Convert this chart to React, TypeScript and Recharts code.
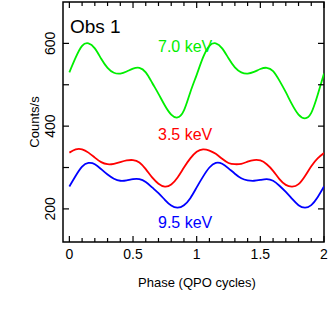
import { LineChart, Line, XAxis, YAxis, ReferenceArea } from 'recharts';

const PHASE = [
  0, 0.05, 0.1, 0.15, 0.2, 0.25, 0.3, 0.35, 0.4, 0.45, 0.5, 0.55, 0.6, 0.65, 0.7, 0.75, 0.8, 0.85, 0.9, 0.95,
  1, 1.05, 1.1, 1.15, 1.2, 1.25, 1.3, 1.35, 1.4, 1.45, 1.5, 1.55, 1.6, 1.65, 1.7, 1.75, 1.8, 1.85, 1.9, 1.95, 2,
];

const KEV_7_0 = [
  530, 566, 594, 600, 588, 563, 541, 529, 527, 532, 539, 541, 530, 505, 478, 450, 428, 421, 438, 482,
  524, 566, 594, 600, 588, 564, 542, 530, 527, 531, 538, 541, 533, 510, 482, 452, 428, 419, 432, 475, 527,
];

const KEV_3_5 = [
  336, 344, 344, 336, 324, 313, 308, 309, 313, 317, 318, 312, 296, 276, 261, 254, 259, 276, 300, 322,
  338, 344, 341, 333, 321, 311, 308, 309, 314, 318, 317, 308, 292, 272, 258, 254, 260, 279, 303, 322, 335,
];

const KEV_9_5 = [
  254, 280, 302, 311, 308, 296, 283, 273, 268, 269, 272, 272, 265, 252, 238, 222, 208, 203, 209, 226,
  252, 278, 300, 311, 309, 298, 285, 274, 269, 268, 270, 272, 268, 256, 241, 224, 209, 203, 209, 228, 254,
];

const X_TICKS = [
  0, 0.1, 0.2, 0.3, 0.4, 0.5, 0.6, 0.7, 0.8, 0.9, 1, 1.1, 1.2, 1.3, 1.4, 1.5, 1.6, 1.7, 1.8, 1.9, 2,
];
const X_LABELED = [0, 0.5, 1, 1.5, 2];
const Y_TICKS = [200, 300, 400, 500, 600];
const Y_LABELED = [200, 400, 600];

const FONT = '"Liberation Sans", Arial, Helvetica, sans-serif';
const PLOT_TOP = 2;
const PLOT_RIGHT = 324;

const data = PHASE.map((p, i) => ({
  phase: p,
  k7: KEV_7_0[i],
  k35: KEV_3_5[i],
  k95: KEV_9_5[i],
}));

function XTick({ x, y, payload }: any) {
  const v = payload.value;
  const major = X_LABELED.some((t) => Math.abs(t - v) < 1e-6);
  const len = major ? 6 : 4;
  return (
    <g>
      <line x1={x} x2={x} y1={y} y2={y - len} stroke="#000" strokeWidth={1.2} />
      <line x1={x} x2={x} y1={PLOT_TOP} y2={PLOT_TOP + len} stroke="#000" strokeWidth={1.2} />
      {major && (
        <text x={x} y={y + 17} textAnchor="middle" fontSize={14} fontFamily={FONT} fill="#000">
          {String(v)}
        </text>
      )}
    </g>
  );
}

function YTick({ x, y, payload }: any) {
  const v = payload.value;
  const labeled = Y_LABELED.includes(v);
  return (
    <g>
      <line x1={x} x2={x + 6} y1={y} y2={y} stroke="#000" strokeWidth={1.2} />
      <line x1={PLOT_RIGHT} x2={PLOT_RIGHT - 6} y1={y} y2={y} stroke="#000" strokeWidth={1.2} />
      {labeled && (
        <text
          x={x - 8}
          y={y}
          transform={`rotate(-90, ${x - 8}, ${y})`}
          textAnchor="middle"
          fontSize={14}
          fontFamily={FONT}
          fill="#000"
        >
          {v}
        </text>
      )}
    </g>
  );
}

export default function App() {
  return (
    <div style={{ position: 'absolute', left: 0, top: 0, width: 334, height: 314, background: '#fff' }}>
      <LineChart width={334} height={314} data={data} margin={{ top: 2, right: 10, bottom: 0, left: 0 }}>
        <XAxis
          dataKey="phase"
          type="number"
          domain={[-0.05, 2]}
          ticks={X_TICKS}
          interval={0}
          height={72}
          tickSize={0}
          tickMargin={0}
          tickLine={false}
          axisLine={false}
          tick={<XTick />}
          allowDataOverflow
        />
        <YAxis
          type="number"
          domain={[120, 700]}
          ticks={Y_TICKS}
          interval={0}
          width={63}
          tickSize={0}
          tickMargin={0}
          tickLine={false}
          axisLine={false}
          tick={<YTick />}
          allowDataOverflow
        />
        <ReferenceArea x1={-0.05} x2={2} y1={120} y2={700} fill="none" stroke="#000" strokeWidth={1.5} fillOpacity={0} />
        <Line dataKey="k7" type="natural" stroke="#00ee00" strokeWidth={1.8} dot={false} isAnimationActive={false} />
        <Line dataKey="k35" type="natural" stroke="#ff0000" strokeWidth={1.8} dot={false} isAnimationActive={false} />
        <Line dataKey="k95" type="natural" stroke="#0000ff" strokeWidth={1.8} dot={false} isAnimationActive={false} />
      </LineChart>
      <svg width={334} height={314} style={{ position: 'absolute', left: 0, top: 0, pointerEvents: 'none' }}>
        <g fontFamily={FONT}>
          <text x={70} y={33} fontSize={19} fill="#000">Obs 1</text>
          <text x={158} y={52} fontSize={16} fill="#00ee00">7.0 keV</text>
          <text x={158} y={140} fontSize={16} fill="#ff0000">3.5 keV</text>
          <text x={158} y={228} fontSize={16} fill="#0000ff">9.5 keV</text>
          <text x={197} y={287} fontSize={13} textAnchor="middle" fill="#000">Phase (QPO cycles)</text>
          <text x={39} y={122} fontSize={13} textAnchor="middle" transform="rotate(-90, 39, 122)" fill="#000">
            Counts/s
          </text>
        </g>
      </svg>
    </div>
  );
}
